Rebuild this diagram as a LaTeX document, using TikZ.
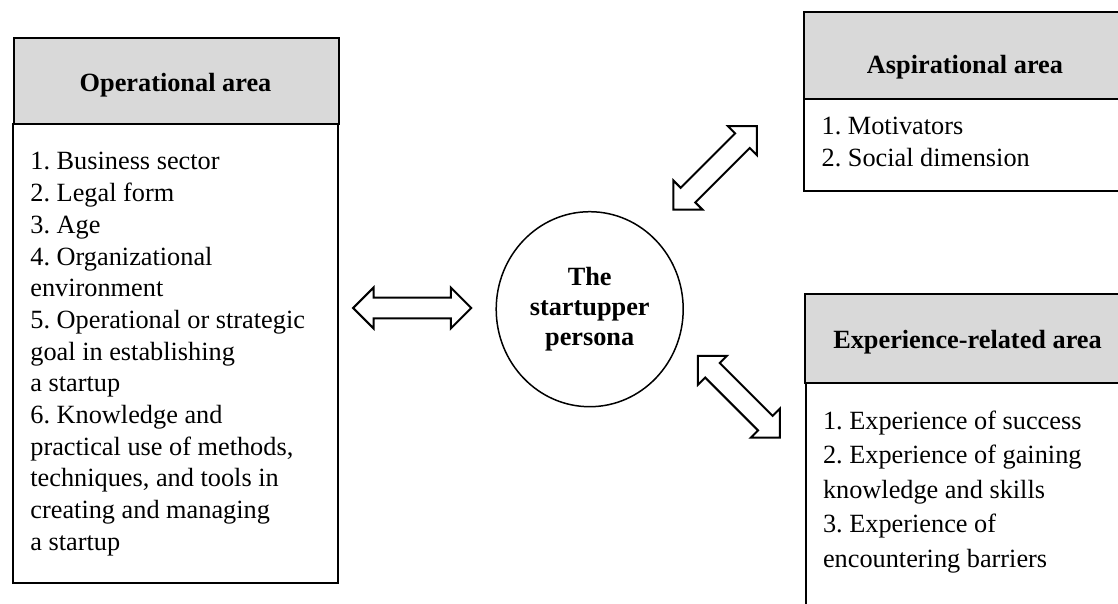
\documentclass[tikz,border=0pt]{standalone}
\usepackage{fontspec}
\setmainfont{Liberation Serif}
\frenchspacing
\usetikzlibrary{shapes.geometric}
\definecolor{hdrgray}{HTML}{D9D9D9}
\tikzset{
  areabox/.style={draw=black, line width=2pt, fill=white, anchor=north west, inner sep=0pt},
  hdrbox/.style={areabox, fill=hdrgray},
  hdrtext/.style={font=\fontsize{26.3}{31.7}\selectfont\bfseries, anchor=base, inner sep=0pt},
  listtext/.style={font=\fontsize{26.3}{31.7}\selectfont\frenchspacing, align=left, anchor=base west, inner sep=0pt},
  pics/dblarr/.style={code={
    \draw[line width=2pt, fill=white, line join=miter]
      (-#1,0) -- ({-#1+20.5},20.5) -- ({-#1+20.5},10.3) -- ({#1-20.5},10.3)
      -- ({#1-20.5},20.5) -- (#1,0) -- ({#1-20.5},-20.5) -- ({#1-20.5},-10.3)
      -- ({-#1+20.5},-10.3) -- ({-#1+20.5},-20.5) -- cycle;
  }}
}
\begin{document}
\begin{tikzpicture}[x=1pt, y=-1pt]
\path[use as bounding box] (0,0) rectangle (1118,603);
\clip (0,0) rectangle (1118,603);

% Operational area
\node[areabox, minimum width=325pt, minimum height=459pt] (opb) at (12,122.7) {};
\node[hdrbox, minimum width=325pt, minimum height=85.4pt] (oph) at (12.5,37.3) {};
\node[hdrtext] (opt) at (175.5,91.7) {Operational area};
% anchored at the baseline of the last line
\node[listtext] (opl) at (30.2,550.3) {1. Business sector\\2. Legal form\\3. Age\\4. Organizational\\environment\\5. Operational or strategic\\goal in establishing\\a startup\\6. Knowledge and\\practical use of methods,\\techniques, and tools in\\creating and managing\\a startup};

% Aspirational area
\node[areabox, minimum width=340pt, minimum height=91.7pt] (asb) at (802.7,98.3) {};
\node[hdrbox, minimum width=340pt, minimum height=87.3pt] (ash) at (802.7,11) {};
\node[hdrtext] (ast) at (965,73.3) {Aspirational area};
\node[listtext, font=\fontsize{26.3}{32.3}\selectfont\frenchspacing] (asl) at (821.4,166.6) {1. Motivators\\2. Social dimension};

% Experience-related area
\node[areabox, minimum width=340pt, minimum height=240pt] (exb) at (805,381.7) {};
\node[hdrbox, minimum width=340pt, minimum height=88.4pt] (exh) at (804,293.3) {};
\node[hdrtext] (ext) at (967.5,348.3) {Experience-related area};
\node[listtext, font=\fontsize{26.3}{34.5}\selectfont\frenchspacing] (exl) at (822.8,567.3) {1. Experience of success\\2. Experience of gaining\\knowledge and skills\\3. Experience of\\encountering barriers};

% Central persona
\node[ellipse, draw=black, line width=1.5pt, minimum width=187pt, minimum height=195pt, inner sep=0pt, align=center, font=\fontsize{26.3}{30}\selectfont\bfseries] (persona) at (589.7,309.2) {The\\startupper\\persona};

% Block arrows
\pic at (412.2,308) {dblarr=59.1};
\pic[rotate=45] at (715.2,167.9) {dblarr=59};
\pic[rotate=-45] at (738.9,396.7) {dblarr=57.9};
\end{tikzpicture}
\end{document}
